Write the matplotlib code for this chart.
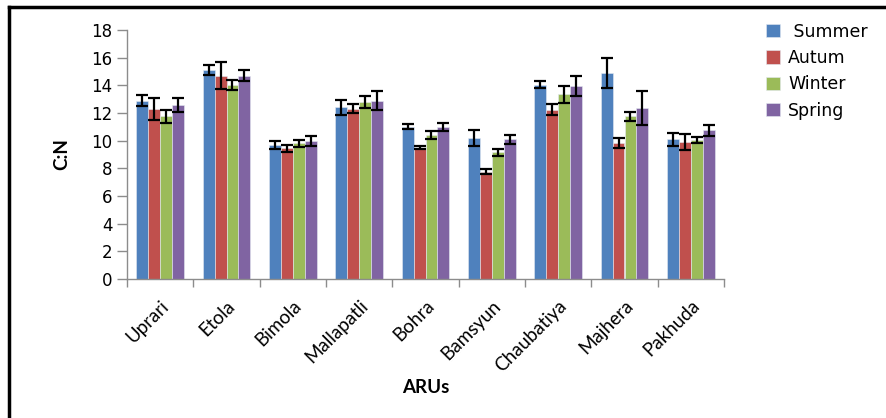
import matplotlib
matplotlib.use("Agg")
import matplotlib.pyplot as plt
import numpy as np
from matplotlib.lines import Line2D

sites = ["Uprari", "Etola", "Bimola", "Mallapatli", "Bohra", "Bamsyun",
         "Chaubatiya", "Majhera", "Pakhuda"]
seasons = [" Summer", "Autum", "Winter", "Spring"]

summer = [12.9, 15.1, 9.7, 12.4, 11.0, 10.2, 14.05, 14.9, 10.1]
autum = [12.3, 14.7, 9.45, 12.3, 9.5, 7.75, 12.25, 9.85, 9.9]
winter = [11.75, 14.0, 9.8, 12.8, 10.4, 9.15, 13.35, 11.75, 10.05]
spring = [12.6, 14.7, 10.0, 12.9, 11.0, 10.1, 13.95, 12.35, 10.75]

summer_err = [0.38, 0.36, 0.31, 0.52, 0.19, 0.55, 0.27, 1.1, 0.45]
autum_err = [0.77, 0.99, 0.27, 0.33, 0.1, 0.19, 0.4, 0.35, 0.6]
winter_err = [0.45, 0.37, 0.23, 0.41, 0.3, 0.25, 0.63, 0.33, 0.23]
spring_err = [0.52, 0.4, 0.37, 0.7, 0.27, 0.31, 0.74, 1.22, 0.4]

values = [summer, autum, winter, spring]
errors = [summer_err, autum_err, winter_err, spring_err]
colors = ["#4F81BD", "#C0504D", "#9BBB59", "#8064A2"]

fig = plt.figure(figsize=(8.87, 4.18), dpi=100)
ax = fig.add_axes([127/887, 1-279/418, (724-127)/887, (279-30)/418])

x = np.arange(len(sites))
w = 0.18
for i, (v, e, c, lab) in enumerate(zip(values, errors, colors, seasons)):
    off = (i - 1.5) * w
    ax.bar(x + off, v, width=w, color=c, edgecolor="#e4eaf2", linewidth=0.4,
           label=lab, zorder=2)
    ax.errorbar(x + off, v, yerr=e, fmt="none", ecolor="black", elinewidth=1.6,
                capsize=4, capthick=1.6, zorder=3)

ax.set_xlim(-0.5, len(sites) - 0.5)
ax.set_ylim(0, 18)
ax.set_yticks(np.arange(0, 19, 2))
ax.tick_params(axis="y", labelsize=12, length=7, color="#8c8c8c", width=1)
ax.set_xticks(x)
ax.set_xticklabels(sites, rotation=45, ha="right", rotation_mode="anchor",
                   fontsize=13.5, fontfamily="Lato")
ax.tick_params(axis="x", which="major", length=0, pad=13)
ax.set_xticks(np.arange(-0.5, len(sites), 1.0), minor=True)
ax.tick_params(axis="x", which="minor", length=6, color="#8c8c8c", width=1)

for s in ["top", "right"]:
    ax.spines[s].set_visible(False)
for s in ["left", "bottom"]:
    ax.spines[s].set_color("#8c8c8c")
    ax.spines[s].set_linewidth(1)

ax.set_ylabel("C:N", fontsize=13.5, fontweight="bold", fontfamily="Lato", labelpad=15)
ax.set_xlabel("ARUs", fontsize=13.5, fontweight="bold", fontfamily="Lato", labelpad=3)

ax.legend(loc="upper left", bbox_to_anchor=(750/887, 1-7/418),
          bbox_transform=fig.transFigure, frameon=False, fontsize=12.5,
          handlelength=0.8, handleheight=0.8, handletextpad=0.5,
          labelspacing=0.48)

# figure frame
fig.add_artist(Line2D([9/887, 1.0], [1-7/418, 1-7/418], transform=fig.transFigure,
                      color="black", linewidth=2.5))
fig.add_artist(Line2D([9/887, 9/887], [0, 1-7/418], transform=fig.transFigure,
                      color="black", linewidth=2.5))

fig.savefig("out.png", dpi=100)
